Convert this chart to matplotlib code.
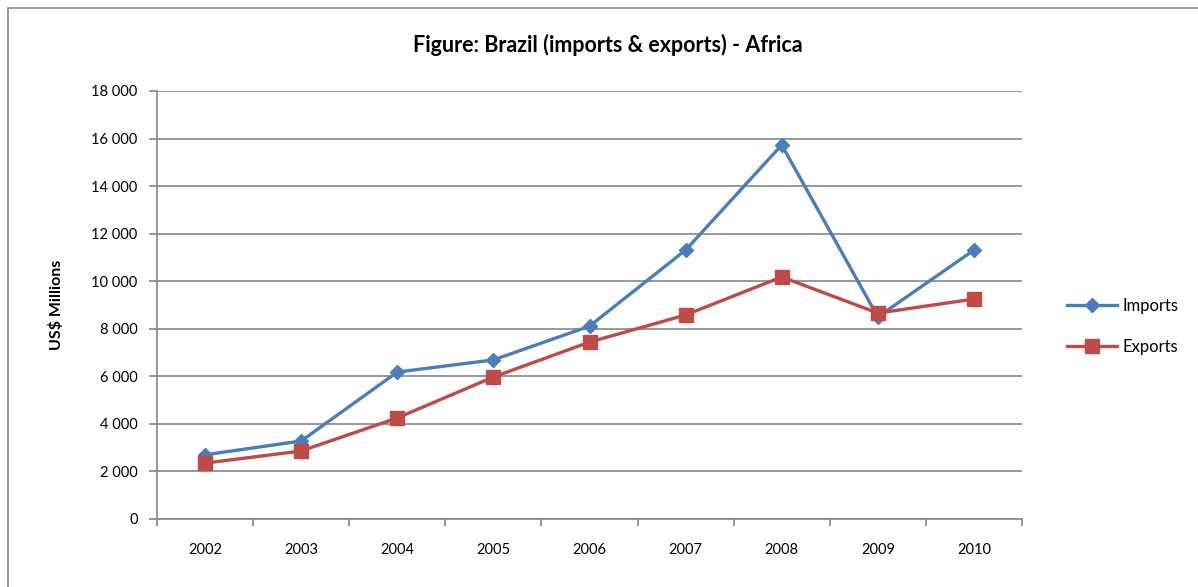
import matplotlib.pyplot as plt
from matplotlib.patches import Rectangle
import numpy as np

plt.rcParams['font.family'] = ['Lato', 'DejaVu Sans']

years = ['2002', '2003', '2004', '2005', '2006', '2007', '2008', '2009', '2010']
imports = [2700, 3280, 6180, 6690, 8110, 11310, 15730, 8500, 11310]
exports = [2350, 2860, 4250, 5970, 7440, 8580, 10180, 8660, 9250]

fig = plt.figure(figsize=(11.98, 5.87), dpi=100)
# outer chart frame
fig.patches.append(Rectangle((8 / 1198, -0.05), 1.2, 579 / 587 + 0.05,
                             transform=fig.transFigure, fill=False,
                             edgecolor='#8c8c8c', linewidth=1.2))

ax = fig.add_axes([157 / 1198, 1 - 519 / 587, (1022 - 157) / 1198, (519 - 91) / 587])
x = np.arange(len(years))

ax.plot(x, imports, color='#4a7ebb', linewidth=2.4, marker='D', markersize=7, label='Imports')
ax.plot(x, exports, color='#be4b48', linewidth=2.4, marker='s', markersize=9.5, label='Exports')

ax.set_xlim(-0.5, len(years) - 0.5)
ax.set_ylim(0, 18000)
ax.set_yticks(np.arange(0, 18001, 2000))
ax.set_yticklabels([f'{v:,}'.replace(',', ' ') for v in range(0, 18001, 2000)], fontsize=10.5)
ax.set_xticks(np.arange(-0.5, len(years), 1))
ax.set_xticklabels([])
ax.set_xticks(x, minor=True)
ax.set_xticklabels(years, minor=True, fontsize=10.5)
ax.tick_params(axis='x', which='minor', length=0, pad=17)
ax.tick_params(axis='x', which='major', length=5, color='#868686', width=1.2)
ax.tick_params(axis='y', length=6, color='#868686', width=1.2, pad=8)

ax.grid(axis='y', color='#868686', linewidth=1.2)
ax.set_axisbelow(True)
for s in ['top', 'right']:
    ax.spines[s].set_visible(False)
for s in ['left', 'bottom']:
    ax.spines[s].set_color('#868686')
    ax.spines[s].set_linewidth(1.2)

ax.set_ylabel('US$ Millions', fontsize=11.5, fontweight='bold', labelpad=20)
fig.text(608 / 1198, 1 - 45 / 587, 'Figure: Brazil (imports & exports) - Africa',
         ha='center', va='center', fontsize=15.5, fontweight='bold')

ax.legend(loc='center left', bbox_to_anchor=(1.035, 0.45), frameon=False,
          fontsize=12, handlelength=3.0, labelspacing=1.5, handletextpad=0.3)

fig.savefig('out.png', dpi=100)
